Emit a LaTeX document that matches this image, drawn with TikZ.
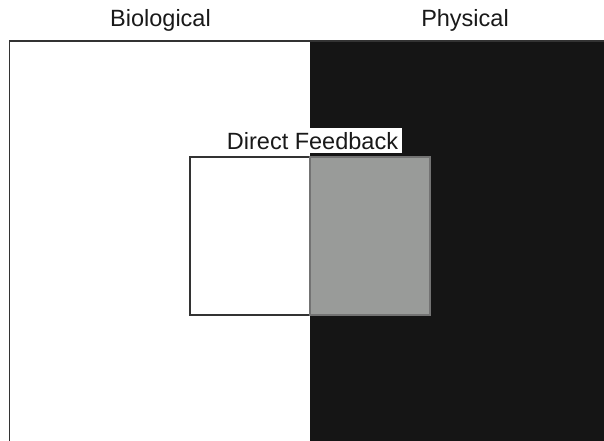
\documentclass[tikz,border=0pt]{standalone}
\usepackage{fontspec}
\setmainfont{Liberation Sans}
\usetikzlibrary{positioning}
\definecolor{nightgray}{HTML}{151515}
\definecolor{midgray}{HTML}{999B99}
\definecolor{edgegray}{HTML}{333333}

\begin{document}
\begin{tikzpicture}[x=1pt,y=-1pt,
    heading/.style={font=\fontsize{23.5}{28}\selectfont, text=black!90, inner sep=3.5pt, anchor=base}]
    \useasboundingbox (0,0) rectangle (604,440);

    % corners of the two domains
    \coordinate (bio_tl) at (9.5,41);
    \coordinate (phys_tl) at (310,41);
    \coordinate (phys_br) at (612,448);

    \fill[nightgray] (phys_tl) rectangle (phys_br);
    \draw[edgegray,line width=1.5pt] (bio_tl) rectangle (phys_br);

    % domain headings
    \node[heading] (bio) at (160.5,26.7) {Biological};
    \node[heading] (phys) at (465,26.7) {Physical};

    % overlap box
    \coordinate (fb_tl) at (190,157);
    \coordinate (fb_mid) at (310,157);
    \coordinate (fb_br) at (430,315);
    \filldraw[fill=white,draw=edgegray,line width=1.5pt] (fb_tl) rectangle (fb_mid |- fb_br);
    \filldraw[fill=midgray,draw=black!55,line width=1.5pt] (fb_mid) rectangle (fb_br);

    \node[heading,fill=white,text depth=0pt] (fb) at (312.5,149) {Direct Feedback};

\end{tikzpicture}
\end{document}
